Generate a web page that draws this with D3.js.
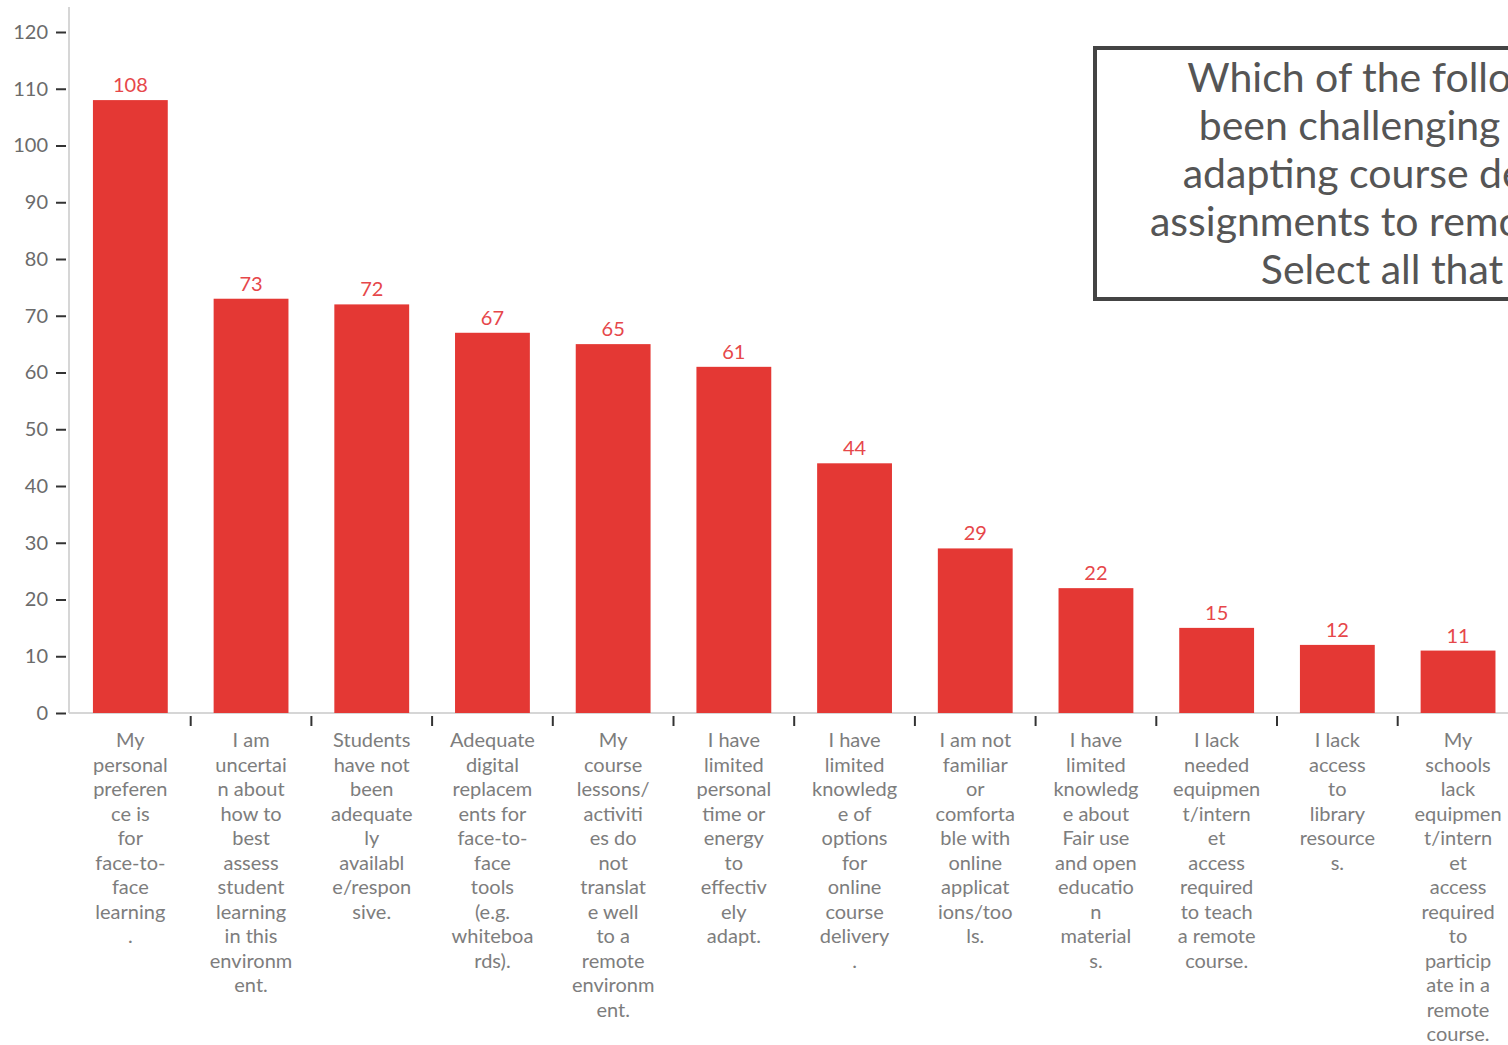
<!DOCTYPE html>
<html>
<head>
<meta charset="utf-8">
<script src="https://cdn.jsdelivr.net/npm/d3@7"></script>
<style>
  html, body { margin: 0; padding: 0; background: #fff; }
  svg { display: block; }
</style>
</head>
<body>
<svg id="chart" width="1508" height="1045"></svg>
<script>
// Survey responses: challenges in adapting course delivery to remote learning
const categories = [
  "My\npersonal\npreferen\nce is\nfor\nface-to-\nface\nlearning\n.",
  "I am\nuncertai\nn about\nhow to\nbest\nassess\nstudent\nlearning\nin this\nenvironm\nent.",
  "Students\nhave not\nbeen\nadequate\nly\navailabl\ne/respon\nsive.",
  "Adequate\ndigital\nreplacem\nents for\nface-to-\nface\ntools\n(e.g.\nwhiteboa\nrds).",
  "My\ncourse\nlessons/\nactiviti\nes do\nnot\ntranslat\ne well\nto a\nremote\nenvironm\nent.",
  "I have\nlimited\npersonal\ntime or\nenergy\nto\neffectiv\nely\nadapt.",
  "I have\nlimited\nknowledg\ne of\noptions\nfor\nonline\ncourse\ndelivery\n.",
  "I am not\nfamiliar\nor\ncomforta\nble with\nonline\napplicat\nions/too\nls.",
  "I have\nlimited\nknowledg\ne about\nFair use\nand open\neducatio\nn\nmaterial\ns.",
  "I lack\nneeded\nequipmen\nt/intern\net\naccess\nrequired\nto teach\na remote\ncourse.",
  "I lack\naccess\nto\nlibrary\nresource\ns.",
  "My\nschools\nlack\nequipmen\nt/intern\net\naccess\nrequired\nto\nparticip\nate in a\nremote\ncourse."
];
const counts = [108, 73, 72, 67, 65, 61, 44, 29, 22, 15, 12, 11];
const yTicks = [0, 10, 20, 30, 40, 50, 60, 70, 80, 90, 100, 110, 120];
const titleLines = [
  "Which of the following have",
  "been challenging for you in",
  "adapting course delivery and",
  "assignments to remote learning?",
  "Select all that apply."
];

const svg = d3.select("#chart");
const barColor = "#e43834";
const labelRed = "#e6474a";

const plotLeft = 70, plotBottom = 713, plotTop = 32;

const x = d3.scaleBand()
  .domain(d3.range(categories.length))
  .range([plotLeft, plotLeft + 12 * 120.7])
  .paddingInner(0.38)
  .paddingOuter(0.19);

const y = d3.scaleLinear().domain([0, 120]).range([plotBottom, plotTop]);

// axis lines
svg.append("line")
  .attr("x1", 69).attr("x2", 69).attr("y1", 7).attr("y2", plotBottom)
  .attr("stroke", "#d6d6d6").attr("stroke-width", 2);
svg.append("line")
  .attr("x1", 69).attr("x2", 1508).attr("y1", plotBottom).attr("y2", plotBottom)
  .attr("stroke", "#d6d6d6").attr("stroke-width", 2);

// y axis ticks and labels
const yAxis = svg.append("g")
  .attr("transform", "translate(66,0)")
  .call(d3.axisLeft(y).tickValues(yTicks).tickSize(10).tickPadding(8));
yAxis.select(".domain").remove();
yAxis.selectAll(".tick line").attr("stroke", "#333").attr("stroke-width", 2);
yAxis.selectAll(".tick text")
  .attr("fill", "#6b6b6b")
  .style("font-family", "Lato, 'Open Sans', sans-serif")
  .style("font-size", "20px");

// x tick marks between categories
const step = x.step();
svg.append("g").selectAll("line")
  .data(d3.range(1, categories.length))
  .join("line")
  .attr("x1", d => x(d) - (step - x.bandwidth()) / 2)
  .attr("x2", d => x(d) - (step - x.bandwidth()) / 2)
  .attr("y1", plotBottom + 3).attr("y2", plotBottom + 13)
  .attr("stroke", "#333").attr("stroke-width", 2);

// bars
svg.append("g").selectAll("rect")
  .data(counts)
  .join("rect")
  .attr("x", (d, i) => x(i))
  .attr("y", d => y(d))
  .attr("width", x.bandwidth())
  .attr("height", d => y(0) - y(d))
  .attr("fill", barColor);

// value labels
svg.append("g").selectAll("text")
  .data(counts)
  .join("text")
  .attr("x", (d, i) => x(i) + x.bandwidth() / 2)
  .attr("y", d => y(d) - 8)
  .attr("text-anchor", "middle")
  .attr("fill", labelRed)
  .style("font-family", "Lato, 'Open Sans', sans-serif")
  .style("font-size", "20px")
  .text(d => d);

// category labels
const catG = svg.append("g");
categories.forEach((c, i) => {
  const t = catG.append("text")
    .attr("x", x(i) + x.bandwidth() / 2)
    .attr("y", 747)
    .attr("text-anchor", "middle")
    .attr("fill", "#7d7d7d")
    .style("font-family", "Lato, 'Open Sans', sans-serif")
    .style("font-size", "20px");
  c.split("\n").forEach((line, k) => {
    t.append("tspan")
      .attr("x", x(i) + x.bandwidth() / 2)
      .attr("y", 747 + k * 24.5)
      .text(line);
  });
});

// question box
svg.append("rect")
  .attr("x", 1095).attr("y", 48)
  .attr("width", 700).attr("height", 251)
  .attr("fill", "#fff")
  .attr("stroke", "#444").attr("stroke-width", 4);

const title = svg.append("text")
  .attr("text-anchor", "middle")
  .attr("fill", "#555")
  .style("font-family", "Lato, 'Open Sans', sans-serif")
  .style("font-size", "41px");
titleLines.forEach((line, k) => {
  title.append("tspan")
    .attr("x", 1440)
    .attr("y", 92 + k * 48)
    .text(line);
});
</script>
</body>
</html>
